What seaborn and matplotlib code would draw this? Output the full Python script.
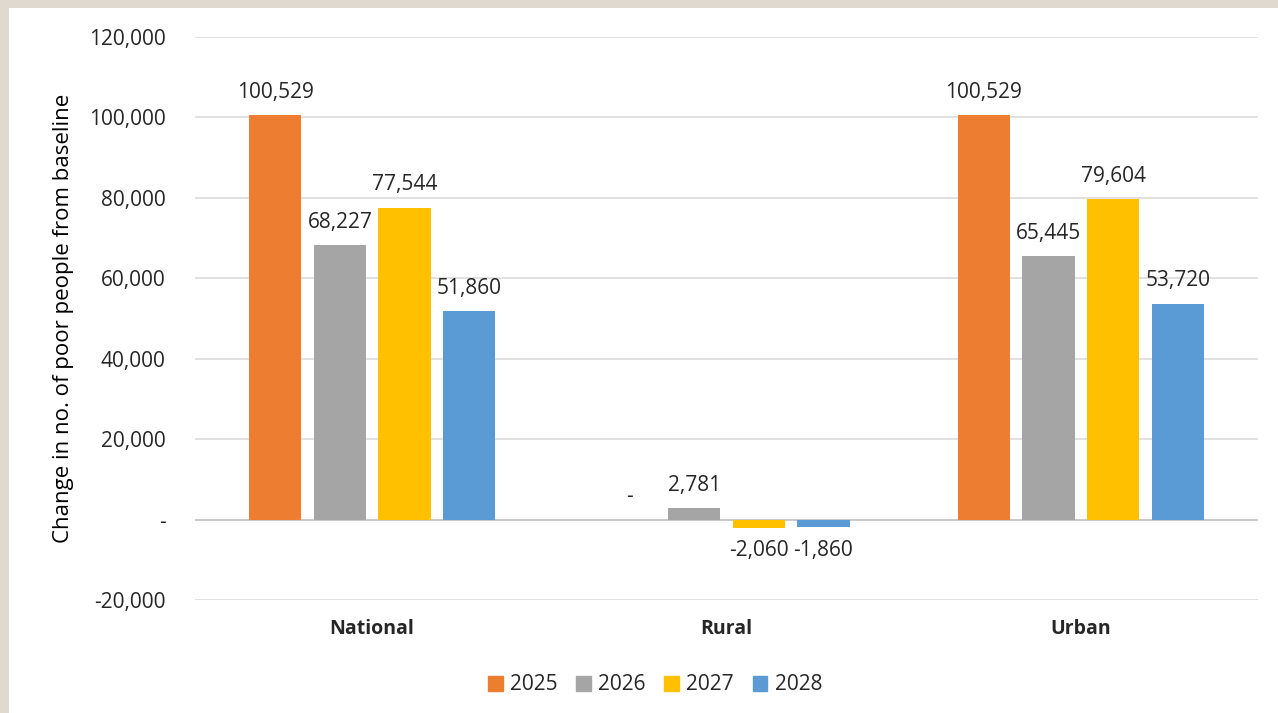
import matplotlib
matplotlib.use("Agg")
import matplotlib.pyplot as plt
import matplotlib.patches as mpatches
from matplotlib.ticker import FuncFormatter
import pandas as pd
import seaborn as sns

# data
regions = ["National", "Rural", "Urban"]
years = ["2025", "2026", "2027", "2028"]
vals_2025 = [100529, 0, 100529]
vals_2026 = [68227, 2781, 65445]
vals_2027 = [77544, -2060, 79604]
vals_2028 = [51860, -1860, 53720]
colors = ["#ED7D31", "#A5A5A5", "#FFC000", "#5B9BD5"]

rows = []
for year, vals in zip(years, [vals_2025, vals_2026, vals_2027, vals_2028]):
    for region, v in zip(regions, vals):
        rows.append({"Region": region, "Year": year, "Value": v})
df = pd.DataFrame(rows)

sns.set_style("white")
plt.rcParams["font.family"] = ["Open Sans", "DejaVu Sans"]
text_color = "#262626"

fig = plt.figure(figsize=(12.78, 7.13), dpi=100)
fig.patch.set_facecolor("#E0D9CF")
fig.add_artist(mpatches.Rectangle((9 / 1278, 0), 1, 1 - 8 / 713,
                                  transform=fig.transFigure,
                                  facecolor="white", edgecolor="none", zorder=0))
ax = fig.add_axes([195 / 1278, 1 - 600 / 713, (1258 - 195) / 1278, (600 - 37) / 713])
ax.set_facecolor("white")

sns.barplot(data=df, x="Region", y="Value", hue="Year", order=regions,
            hue_order=years, palette=colors, width=0.73, gap=0.19,
            saturation=1, ax=ax, legend=False, zorder=3,
            edgecolor="none", linewidth=0)

ax.set_ylim(-20000, 120000)
ax.set_yticks(range(-20000, 120001, 20000))
ax.yaxis.set_major_formatter(FuncFormatter(lambda v, p: "-" if v == 0 else f"{v:,.0f}"))
ax.grid(axis="y", color="#D9D9D9", linewidth=1.1, zorder=0)
ax.axhline(0, color="#C9C9C9", linewidth=1.3, zorder=2)
sns.despine(ax=ax, left=True, bottom=True)
ax.tick_params(axis="y", length=0, pad=21, labelsize=15, labelcolor=text_color)
ax.tick_params(axis="x", length=0, pad=14, labelsize=14, labelcolor=text_color)
for lbl in ax.get_xticklabels():
    lbl.set_fontweight("bold")
ax.set_xlabel("")
ax.set_ylabel("Change in no. of poor people from baseline", fontsize=16,
              color="black", labelpad=11)

for cont in ax.containers:
    ax.bar_label(cont, fmt=lambda v: "-" if v == 0 else f"{v:,.0f}",
                 padding=9, fontsize=15, color=text_color)

handles = [mpatches.Patch(color=c, label=y) for c, y in zip(colors, years)]
fig.legend(handles=handles, loc="center", bbox_to_anchor=(655 / 1278, 1 - 685 / 713),
           ncol=4, frameon=False, fontsize=15, handlelength=0.7, handleheight=0.7,
           handletextpad=0.35, columnspacing=0.9, labelcolor=text_color)

fig.savefig("out.png", dpi=100, facecolor=fig.get_facecolor())
